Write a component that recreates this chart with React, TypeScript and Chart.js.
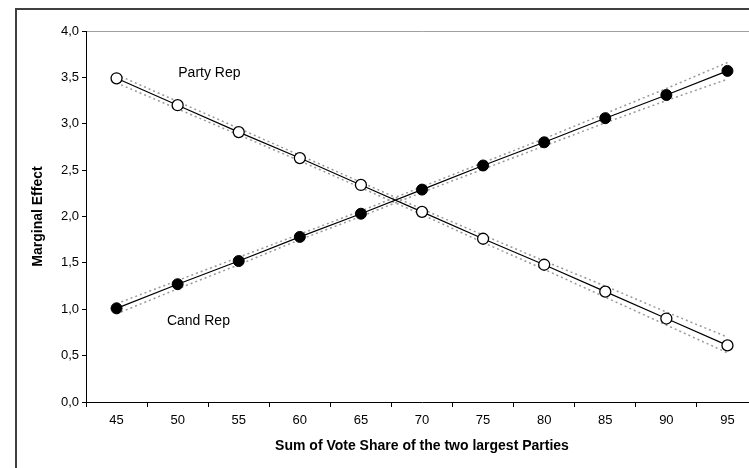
import React, { useEffect, useRef } from 'react';
import { Chart, registerables } from 'chart.js';

Chart.register(...registerables);

const categories = ['45', '50', '55', '60', '65', '70', '75', '80', '85', '90', '95'];

const partyRep = [3.49, 3.20, 2.91, 2.63, 2.34, 2.05, 1.76, 1.48, 1.19, 0.90, 0.61];
const partyRepUpper = [3.53, 3.24, 2.95, 2.66, 2.37, 2.08, 1.80, 1.52, 1.25, 0.97, 0.70];
const partyRepLower = [3.44, 3.16, 2.88, 2.60, 2.31, 2.02, 1.72, 1.43, 1.13, 0.83, 0.53];

const candRep = [1.01, 1.27, 1.52, 1.78, 2.03, 2.29, 2.55, 2.80, 3.06, 3.31, 3.57];
const candRepUpper = [1.06, 1.31, 1.56, 1.81, 2.06, 2.32, 2.58, 2.84, 3.11, 3.38, 3.66];
const candRepLower = [0.95, 1.22, 1.48, 1.75, 2.00, 2.26, 2.51, 2.76, 3.01, 3.25, 3.48];

const yMin = 0;
const yMax = 4;
const yStep = 0.5;

// text annotations, in data coordinates (category index, value)
const partyLabel = { text: 'Party Rep', x: 1.52, y: 3.55 };
const candLabel = { text: 'Cand Rep', x: 1.34, y: 0.87 };

const FONT = '"Liberation Sans", Arial, sans-serif';

const annotPlugin = {
  id: 'annot',
  beforeDraw(chart: any) {
    const { ctx, width, height } = chart;
    ctx.save();
    ctx.fillStyle = '#fff';
    ctx.fillRect(0, 0, width, height);
    ctx.restore();
  },
  afterDraw(chart: any) {
    const { ctx } = chart;
    const x = chart.scales.x;
    const y = chart.scales.y;
    ctx.save();
    ctx.font = `14px ${FONT}`;
    ctx.fillStyle = '#000';
    ctx.textAlign = 'center';
    ctx.textBaseline = 'middle';
    for (const l of [partyLabel, candLabel]) {
      ctx.fillText(l.text, x.getPixelForValue(l.x), y.getPixelForValue(l.y));
    }
    ctx.strokeStyle = '#404040';
    ctx.lineWidth = 2;
    ctx.strokeRect(16, 9, 2000, 2000);
    ctx.restore();
  },
};

const band = (data: number[]) => ({
  data,
  borderColor: '#999',
  borderWidth: 1.5,
  borderDash: [2, 3],
  pointRadius: 0,
  fill: false,
  tension: 0,
});

export default function App() {
  const ref = useRef<HTMLCanvasElement>(null);
  useEffect(() => {
    if (!ref.current) return;
    const chart = new Chart(ref.current, {
      type: 'line',
      data: {
        labels: categories,
        datasets: [
          {
            label: 'Party Rep',
            data: partyRep,
            borderColor: '#000',
            borderWidth: 1.2,
            pointRadius: 5.5,
            pointBackgroundColor: '#fff',
            pointBorderColor: '#000',
            pointBorderWidth: 1.3,
            tension: 0,
          },
          {
            label: 'Cand Rep',
            data: candRep,
            borderColor: '#000',
            borderWidth: 1.2,
            pointRadius: 5.5,
            pointBackgroundColor: '#000',
            pointBorderColor: '#000',
            pointBorderWidth: 1,
            tension: 0,
          },
          { label: 'p_up', ...band(partyRepUpper) },
          { label: 'p_lo', ...band(partyRepLower) },
          { label: 'c_up', ...band(candRepUpper) },
          { label: 'c_lo', ...band(candRepLower) },
        ],
      },
      options: {
        animation: false,
        responsive: false,
        devicePixelRatio: 1,
        layout: { padding: { left: 0, right: 22, top: 31, bottom: 6 } },
        plugins: { legend: { display: false }, tooltip: { enabled: false } },
        scales: {
          x: {
            type: 'category',
            offset: true,
            grid: {
              offset: true,
              drawOnChartArea: false,
              tickLength: 5,
              tickColor: '#000',
            },
            border: { color: '#000', width: 1 },
            ticks: { color: '#000', font: { family: FONT, size: 13 }, padding: 6, maxRotation: 0 },
            title: {
              display: true,
              text: 'Sum of Vote Share of the two largest Parties',
              color: '#000',
              font: { family: FONT, size: 14, weight: 'bold' },
              padding: { top: 0, bottom: 7 },
            },
            afterFit(scale: any) {
              scale.height = 60;
            },
          },
          y: {
            min: yMin,
            max: yMax,
            ticks: {
              stepSize: yStep,
              color: '#000',
              font: { family: FONT, size: 13 },
              padding: 3,
              callback: (v: any) => Number(v).toFixed(1).replace('.', ','),
            },
            grid: {
              drawOnChartArea: true,
              color: (c: any) => (c.tick && c.tick.value === yMax ? '#a0a0a0' : 'rgba(0,0,0,0)'),
              tickColor: '#000',
              tickLength: 4,
            },
            border: { color: '#000', width: 1 },
            title: {
              display: true,
              text: 'Marginal Effect',
              color: '#000',
              font: { family: FONT, size: 14, weight: 'bold' },
              padding: { top: 30, bottom: 0 },
            },
            afterFit(scale: any) {
              scale.width = 86;
            },
          },
        },
      },
      plugins: [annotPlugin],
    });
    return () => chart.destroy();
  }, []);

  return (
    <div
      style={{
        position: 'fixed',
        left: 0,
        top: 0,
        width: 749,
        height: 468,
        overflow: 'hidden',
        background: '#fff',
      }}
    >
      <canvas ref={ref} width={780} height={468} style={{ display: 'block' }} />
    </div>
  );
}
